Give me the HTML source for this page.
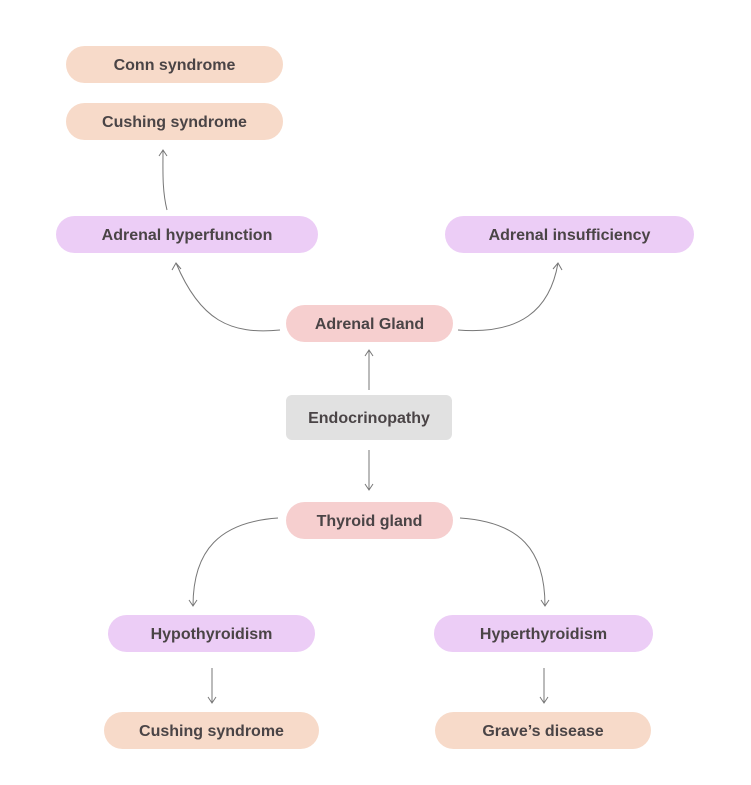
<!DOCTYPE html>
<html><head><style>
body{margin:0;width:751px;height:785px;background:#fff;position:relative;overflow:hidden;font-family:"Liberation Sans",sans-serif;}
.n{position:absolute;display:flex;align-items:center;justify-content:center;border-radius:19px;font-weight:bold;font-size:16px;color:#4a4446;box-sizing:border-box;padding-top:3px;}
.p{background:#f7dac9}.u{background:#eccdf6}.r{background:#f6cfcf}.g{background:#e1e1e1;border-radius:6px}
svg{position:absolute;left:0;top:0}
</style></head><body>
<svg width="751" height="785" fill="none" stroke="#777" stroke-width="1">
<path d="M280 330 C230 335 200 320 176 263"/><path d="M172 270 L176 263 L181 269"/>
<path d="M458 330 C520 335 550 310 558 263"/><path d="M553 269 L558 263 L562 270"/>
<path d="M167 210 C162 190 163 170 163 150"/><path d="M159 156 L163 150 L167 156"/>
<path d="M369 390 L369 350"/><path d="M365 356 L369 350 L373 356"/>
<path d="M369 450 L369 490"/><path d="M365 484 L369 490 L373 484"/>
<path d="M278 518 C220 522 193 550 193 606"/><path d="M189 600 L193 606 L197 600"/>
<path d="M460 518 C520 522 545 550 545 606"/><path d="M541 600 L545 606 L549 600"/>
<path d="M212 668 L212 703"/><path d="M208 697 L212 703 L216 697"/>
<path d="M544 668 L544 703"/><path d="M540 697 L544 703 L548 697"/>
</svg>
<div class="n p" style="left:66px;top:46px;width:217px;height:37px">Conn syndrome</div>
<div class="n p" style="left:66px;top:103px;width:217px;height:37px">Cushing syndrome</div>
<div class="n u" style="left:56px;top:216px;width:262px;height:37px">Adrenal hyperfunction</div>
<div class="n u" style="left:445px;top:216px;width:249px;height:37px">Adrenal insufficiency</div>
<div class="n r" style="left:286px;top:305px;width:167px;height:37px">Adrenal Gland</div>
<div class="n g" style="left:286px;top:395px;width:166px;height:45px">Endocrinopathy</div>
<div class="n r" style="left:286px;top:502px;width:167px;height:37px">Thyroid gland</div>
<div class="n u" style="left:108px;top:615px;width:207px;height:37px">Hypothyroidism</div>
<div class="n u" style="left:434px;top:615px;width:219px;height:37px">Hyperthyroidism</div>
<div class="n p" style="left:104px;top:712px;width:215px;height:37px">Cushing syndrome</div>
<div class="n p" style="left:435px;top:712px;width:216px;height:37px">Grave’s disease</div>
</body></html>
